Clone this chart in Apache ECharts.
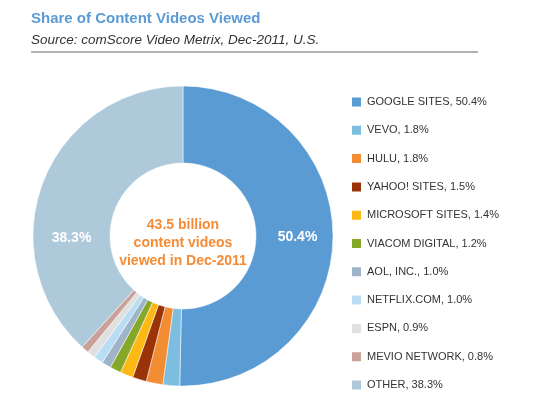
<!DOCTYPE html>
<html>
<head>
<meta charset="utf-8">
<script src="https://cdn.jsdelivr.net/npm/echarts@6/dist/echarts.min.js"></script>
<style>html,body{margin:0;padding:0;background:#fff;}#c{width:537px;height:404px;}</style>
</head>
<body>
<div id="c"></div>
<script>
const categories = ['GOOGLE SITES','VEVO','HULU','YAHOO! SITES','MICROSOFT SITES','VIACOM DIGITAL','AOL, INC.','NETFLIX.COM','ESPN','MEVIO NETWORK','OTHER'];
const shares = [50.4, 1.8, 1.8, 1.5, 1.4, 1.2, 1.0, 1.0, 0.9, 0.8, 38.3];
const colors = ['#5B9BD3','#7DBDE0','#F28D33','#9A3307','#FDB813','#86A829','#9FB4C8','#B9DDF3','#E0E0E0','#C9A199','#AEC9DA'];
const shownLabels = ['GOOGLE SITES','OTHER'];
const titleText = 'Share of Content Videos Viewed';
const subtitleText = 'Source: comScore Video Metrix, Dec-2011, U.S.';
const centerText = '43.5 billion\ncontent videos\nviewed in Dec-2011';

const CX = 183, CY = 236, R0 = 73, R1 = 150;
const valueByName = {};
categories.forEach((n, i) => valueByName[n] = shares[i]);

const chart = echarts.init(document.getElementById('c'), null, {renderer: 'canvas'});
chart.setOption({
  animation: false,
  color: colors,
  title: {
    text: titleText,
    subtext: subtitleText,
    left: 31, top: 11, padding: 0, itemGap: 7,
    textStyle: {fontFamily: 'Liberation Sans, Arial, sans-serif', fontSize: 15, fontWeight: 'bold', color: '#5B9BD5'},
    subtextStyle: {fontFamily: 'Liberation Sans, Arial, sans-serif', fontSize: 13.5, fontStyle: 'italic', color: '#333'}
  },
  graphic: [
    {type: 'line', shape: {x1: 31, y1: 52, x2: 478, y2: 52}, style: {stroke: '#9a9a9a', lineWidth: 1.5}},
    {type: 'text', x: CX, y: CY + 7, style: {text: centerText, textAlign: 'center', textVerticalAlign: 'middle', fill: '#F58C35', font: 'bold 14px "Liberation Sans", Arial, sans-serif', lineHeight: 18}}
  ],
  legend: {
    orient: 'vertical', left: 345, top: 90,
    itemWidth: 11, itemHeight: 11, itemGap: 14.3,
    icon: 'rect',
    textStyle: {fontFamily: 'Liberation Sans, Arial, sans-serif', fontSize: 11, color: '#333', lineHeight: 14},
    formatter: name => name + ', ' + valueByName[name].toFixed(1) + '%',
    data: categories
  },
  series: [{
    type: 'pie',
    center: [CX, CY],
    radius: [R0, R1],
    startAngle: 90,
    clockwise: true,
    avoidLabelOverlap: false,
    itemStyle: {borderColor: '#fff', borderWidth: 0.5},
    label: {show: false, position: 'inside', formatter: p => p.value.toFixed(1) + '%', color: '#fff', fontWeight: 'bold', fontSize: 14, fontFamily: 'Liberation Sans, Arial, sans-serif'},
    labelLine: {show: false},
    emphasis: {disabled: true},
    labelLayout: function (p) {
      if (categories[p.dataIndex] === 'OTHER') {
        return {x: CX - (R0 + R1) / 2, y: CY + 2};
      }
      return {};
    },
    data: categories.map((n, i) => ({name: n, value: shares[i], label: {show: shownLabels.indexOf(n) >= 0}}))
  }]
});
</script>
</body>
</html>
